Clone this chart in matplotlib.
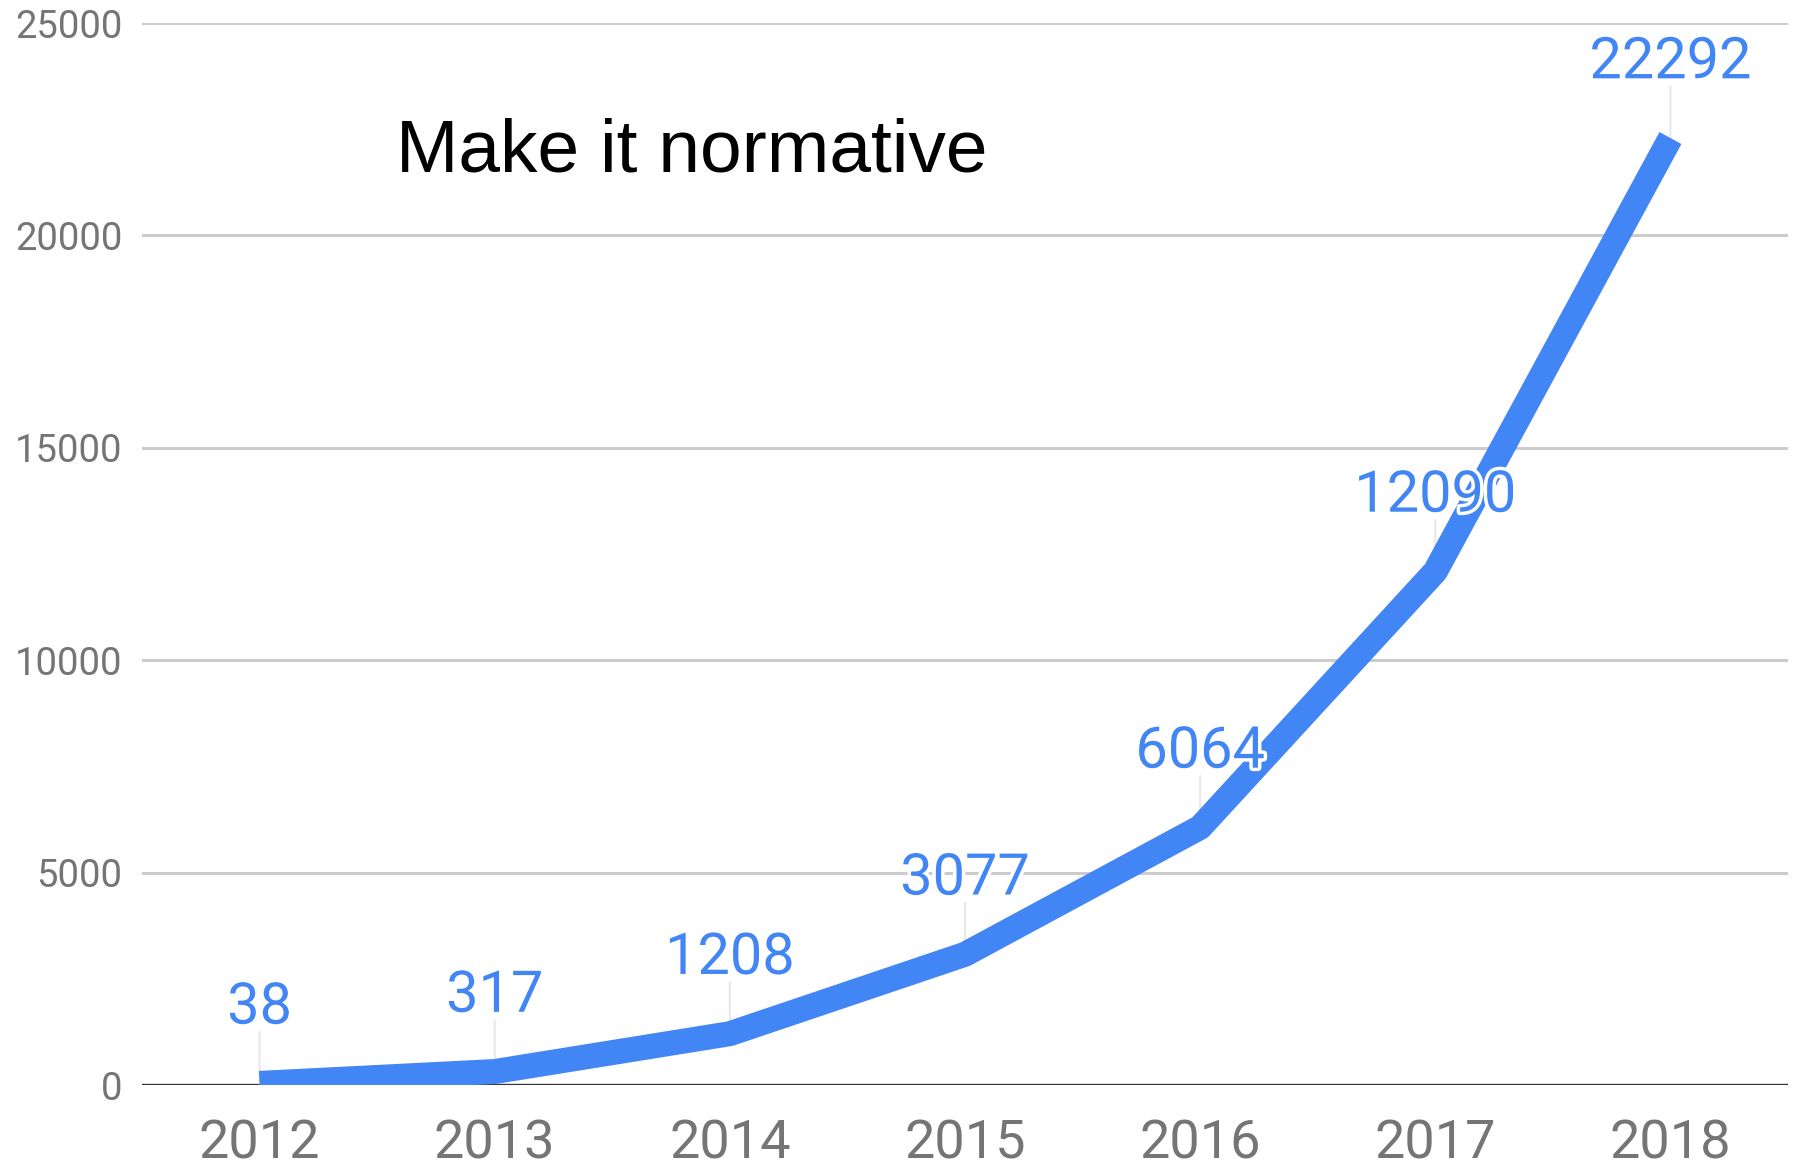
import matplotlib
matplotlib.use("Agg")
from matplotlib import pyplot as plt
import matplotlib.patheffects as pe

years = ['2012', '2013', '2014', '2015', '2016', '2017', '2018']
counts = [38, 317, 1208, 3077, 6064, 12090, 22292]
yticks = [0, 5000, 10000, 15000, 20000, 25000]
title = 'Make it normative'

blue = '#4285F4'
grey = '#757575'

fig = plt.figure(figsize=(18.01, 11.66), dpi=100)
ax = fig.add_axes([142/1801, 1 - 1085/1166, 1646/1801, 1062/1166])

x = list(range(len(years)))

# grid and baseline
for t in yticks[1:]:
    ax.axhline(t, color='#cccccc', lw=2.2, zorder=0)
ax.axhline(0, color='#333333', lw=2.4, zorder=1)

# small stems from each point up to its label
for i, v in zip(x, counts):
    ax.annotate('', xy=(i, v), xytext=(0, 37), textcoords='offset points',
                arrowprops=dict(arrowstyle='-', color='#e8e8e8', lw=1.5,
                                shrinkA=0, shrinkB=0), zorder=1.5)

ax.plot(x, counts, color=blue, lw=18, solid_joinstyle='round',
        solid_capstyle='butt', zorder=2)

for i, v in zip(x, counts):
    ax.annotate(str(v), xy=(i, v), xytext=(0, 43), textcoords='offset points',
                ha='center', va='baseline', fontsize=41.5, family='Roboto',
                color=blue, zorder=3,
                path_effects=[pe.withStroke(linewidth=5, foreground='white')])

ax.text((396 - 142) / 1646, (1085 - 171) / 1062, title, transform=ax.transAxes,
        ha='left', va='baseline', fontsize=54, family='Liberation Sans',
        color='black')

ax.set_xlim(-0.5, len(years) - 0.5)
ax.set_ylim(0, 25000)
ax.set_xticks(x)
ax.set_xticklabels(years, family='Roboto', fontsize=39, color=grey)
ax.set_yticks(yticks)
ax.set_yticklabels([str(t) for t in yticks], family='Roboto', fontsize=27.5,
                   color=grey)
ax.tick_params(axis='x', length=0, pad=24)
ax.tick_params(axis='y', length=0, pad=14)
for s in ax.spines.values():
    s.set_visible(False)

plt.savefig('out.png', dpi=100)
